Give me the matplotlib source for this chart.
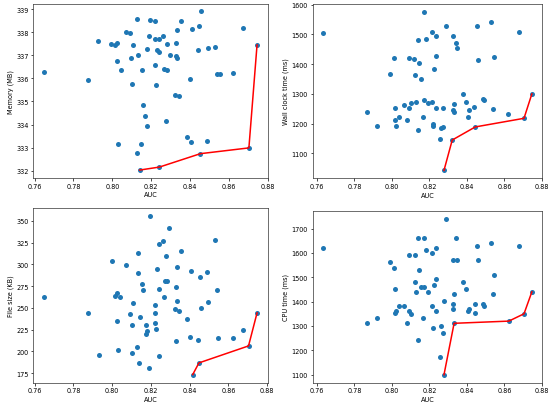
import matplotlib
matplotlib.use("Agg")
import matplotlib.pyplot as plt

# ---- Panel 1: Memory (MB) ----
mem_auc = [0.7648, 0.7877, 0.7929, 0.7996, 0.8016, 0.8025, 0.8025, 0.8043, 0.8071, 0.8089,
           0.8107, 0.8098, 0.8100, 0.8029, 0.8129, 0.8132, 0.8127, 0.8146, 0.8152, 0.8159,
           0.8171, 0.8179, 0.8177, 0.8188, 0.8196, 0.8221, 0.8220, 0.8239, 0.8230, 0.8243,
           0.8221, 0.8225, 0.8263, 0.8268, 0.8280, 0.8280, 0.8296, 0.8275, 0.8329, 0.8329,
           0.8336, 0.8336, 0.8354, 0.8325, 0.8346, 0.8400, 0.8413, 0.8446, 0.8459, 0.8443,
           0.8491, 0.8530, 0.8541, 0.8554, 0.8621, 0.8675, 0.8386, 0.8407, 0.8488]
mem_val = [336.29, 335.91, 337.61, 337.51, 337.45, 337.55, 336.75, 336.38, 338.00, 337.97,
           337.43, 336.88, 335.77, 333.14, 338.59, 337.01, 332.77, 333.17, 336.38, 334.84,
           334.36, 333.94, 337.29, 337.83, 338.52, 338.49, 337.71, 337.71, 337.22, 337.14,
           336.57, 335.71, 337.83, 336.42, 336.38, 337.49, 337.03, 334.14, 337.54, 336.97,
           336.88, 338.09, 338.48, 335.30, 335.23, 335.99, 338.13, 338.29, 338.90, 337.25,
           337.32, 337.38, 336.17, 336.17, 336.25, 338.20, 333.48, 333.23, 333.28]
mem_pareto_auc = [0.8141, 0.8243, 0.8454, 0.8704, 0.8746]
mem_pareto_val = [332.03, 332.16, 332.74, 332.99, 337.45]

# ---- Panel 2: Wall clock time (ms) ----
wall_auc = [0.7633, 0.7868, 0.7920, 0.7990, 0.8010, 0.8017, 0.8017, 0.8021, 0.8036, 0.8067,
            0.8082, 0.8093, 0.8093, 0.8102, 0.8120, 0.8124, 0.8128, 0.8137, 0.8140, 0.8146,
            0.8153, 0.8168, 0.8172, 0.8173, 0.8183, 0.8190, 0.8214, 0.8216, 0.8218, 0.8218,
            0.8223, 0.8234, 0.8238, 0.8236, 0.8256, 0.8262, 0.8273, 0.8275, 0.8291, 0.8324,
            0.8328, 0.8330, 0.8333, 0.8343, 0.8348, 0.8381, 0.8398, 0.8405, 0.8412, 0.8440,
            0.8453, 0.8458, 0.8486, 0.8493, 0.8530, 0.8537, 0.8547, 0.8622, 0.8677]
wall_val = [1505, 1240, 1191, 1368, 1420, 1254, 1211, 1191, 1223, 1262,
            1213, 1421, 1252, 1269, 1416, 1363, 1274, 1179, 1481, 1405,
            1350, 1221, 1577, 1278, 1484, 1268, 1272, 1509, 1198, 1191,
            1385, 1496, 1429, 1251, 1149, 1186, 1188, 1251, 1527, 1496,
            1245, 1267, 1239, 1472, 1456, 1300, 1274, 1223, 1247, 1256,
            1527, 1413, 1284, 1280, 1543, 1250, 1423, 1231, 1509]
wall_pareto_auc = [0.8278, 0.8322, 0.8445, 0.8705, 0.8747]
wall_pareto_val = [1043, 1145, 1189, 1218, 1300]

# ---- Panel 3: File size (KB) ----
size_auc = [0.7648, 0.7877, 0.7930, 0.7998, 0.8016, 0.8027, 0.8043, 0.8025, 0.8030, 0.8073,
            0.8091, 0.8100, 0.8100, 0.8107, 0.8132, 0.8134, 0.8129, 0.8141, 0.8146, 0.8152,
            0.8159, 0.8177, 0.8179, 0.8173, 0.8189, 0.8196, 0.8221, 0.8220, 0.8221, 0.8225,
            0.8232, 0.8241, 0.8243, 0.8243, 0.8264, 0.8268, 0.8275, 0.8282, 0.8280, 0.8296,
            0.8329, 0.8325, 0.8329, 0.8336, 0.8336, 0.8346, 0.8354, 0.8386, 0.8400, 0.8409,
            0.8445, 0.8454, 0.8461, 0.8488, 0.8493, 0.8532, 0.8539, 0.8548, 0.8623, 0.8675]
size_val = [262.3, 244.3, 196.5, 304.1, 264.2, 267.3, 262.3, 234.8, 201.5, 299.5,
            243.6, 198.4, 230.6, 256.2, 313.6, 290.3, 205.3, 187.3, 239.4, 277.3,
            271.1, 231.0, 224.1, 219.9, 181.2, 355.7, 253.1, 244.3, 232.5, 225.6,
            295.3, 323.6, 271.5, 194.6, 327.4, 262.3, 280.7, 281.1, 309.4, 342.0,
            273.8, 248.9, 212.6, 297.6, 258.1, 246.3, 315.9, 237.4, 216.8, 292.2,
            213.3, 285.7, 250.1, 291.0, 257.4, 327.8, 271.1, 215.6, 215.3, 224.4]
size_pareto_auc = [0.8416, 0.8448, 0.8704, 0.8748]
size_pareto_val = [173.5, 186.9, 206.4, 244.3]

# ---- Panel 4: CPU time (ms) ----
cpu_auc = [0.7633, 0.7868, 0.7920, 0.7990, 0.8012, 0.8017, 0.8017, 0.8021, 0.8036, 0.8067,
           0.8083, 0.8093, 0.8093, 0.8102, 0.8122, 0.8124, 0.8126, 0.8137, 0.8140, 0.8146,
           0.8153, 0.8168, 0.8172, 0.8173, 0.8183, 0.8192, 0.8214, 0.8216, 0.8218, 0.8225,
           0.8234, 0.8238, 0.8238, 0.8256, 0.8262, 0.8273, 0.8276, 0.8291, 0.8324, 0.8324,
           0.8328, 0.8332, 0.8343, 0.8350, 0.8381, 0.8398, 0.8405, 0.8412, 0.8442, 0.8445,
           0.8453, 0.8458, 0.8486, 0.8493, 0.8530, 0.8537, 0.8547, 0.8677]
cpu_val = [1621, 1311, 1331, 1561, 1540, 1451, 1352, 1361, 1380, 1380,
           1311, 1591, 1361, 1350, 1591, 1480, 1440, 1241, 1660, 1531,
           1461, 1331, 1660, 1461, 1610, 1440, 1380, 1600, 1290, 1470,
           1621, 1491, 1361, 1171, 1301, 1271, 1401, 1740, 1570, 1371,
           1391, 1431, 1660, 1570, 1480, 1451, 1361, 1371, 1391, 1352,
           1630, 1570, 1391, 1380, 1640, 1431, 1510, 1630]
cpu_pareto_auc = [0.8278, 0.8332, 0.8624, 0.8705, 0.8747]
cpu_pareto_val = [1100, 1311, 1320, 1350, 1440]

xlabel = "AUC"
ylabels = ["Memory (MB)", "Wall clock time (ms)", "File size (KB)", "CPU time (ms)"]
xticks = [0.76, 0.78, 0.80, 0.82, 0.84, 0.86, 0.88]

panels = [
    (mem_auc, mem_val, mem_pareto_auc, mem_pareto_val),
    (wall_auc, wall_val, wall_pareto_auc, wall_pareto_val),
    (size_auc, size_val, size_pareto_auc, size_pareto_val),
    (cpu_auc, cpu_val, cpu_pareto_auc, cpu_pareto_val),
]

W, H = 550, 406
frames = [  # left, top, right, bottom in pixels
    (33.3, 4.5, 267.7, 179.0),
    (312.7, 4.6, 542.3, 179.3),
    (33.3, 209.0, 267.7, 383.5),
    (312.7, 212.0, 542.3, 383.5),
]

fs = 4.7
plt.rcParams.update({
    "font.size": fs,
    "axes.linewidth": 0.5,
    "axes.edgecolor": "#333333",
    "xtick.major.width": 0.5,
    "ytick.major.width": 0.5,
    "xtick.major.size": 1.8,
    "ytick.major.size": 1.8,
    "xtick.major.pad": 1.6,
    "ytick.major.pad": 1.6,
    "axes.labelpad": 1.8,
})

fig = plt.figure(figsize=(W / 100, H / 100), dpi=100)
for (l, t, r, b), (ax_auc, ax_val, p_auc, p_val), ylab in zip(frames, panels, ylabels):
    ax = fig.add_axes([l / W, (H - b) / H, (r - l) / W, (b - t) / H])
    all_x = list(ax_auc) + list(p_auc)
    all_y = list(ax_val) + list(p_val)
    ax.scatter(all_x, all_y, s=13, color="#1f77b4", linewidths=0, zorder=2)
    ax.plot(p_auc, p_val, color="red", lw=1.1, zorder=3)
    ax.set_xticks(xticks)
    ax.set_xticklabels([f"{v:.2f}" for v in xticks])
    ax.set_xlabel(xlabel, fontsize=fs)
    ax.set_ylabel(ylab, fontsize=fs)
    ax.tick_params(labelsize=fs)

fig.savefig("out.png", dpi=100)
